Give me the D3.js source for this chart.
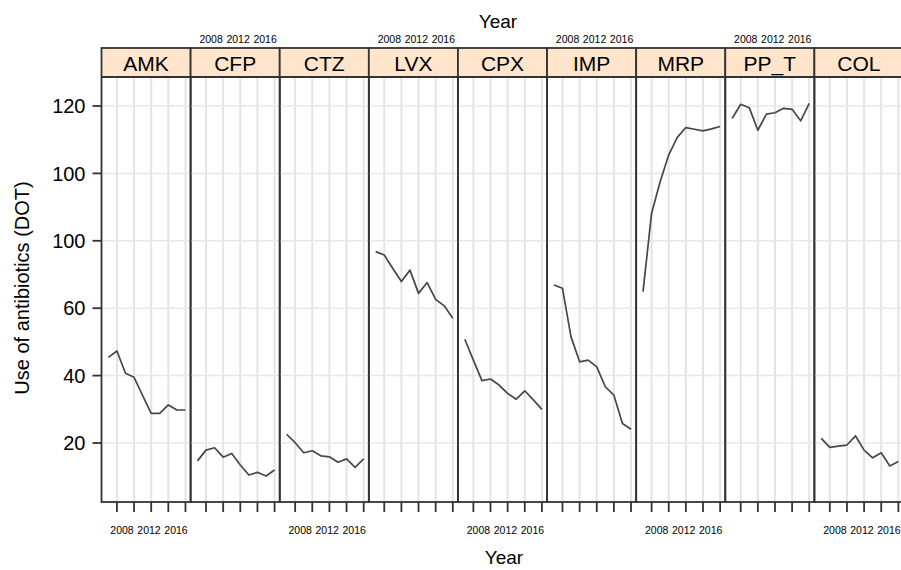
<!DOCTYPE html>
<html lang="en">
  <head>
    <meta charset="UTF-8" />
    <title>Use of antibiotics</title>
    <script src="https://cdn.jsdelivr.net/npm/d3@7/dist/d3.min.js"></script>
    <style>
      body { margin: 0; background: #fff; }
      svg { display: block; font-family: "Liberation Sans", Arial, sans-serif; }
    </style>
  </head>
  <body>
    <div id="chart"></div>
    <script>
      // data
      let drugs = ["AMK", "CFP", "CTZ", "LVX", "CPX", "IMP", "MRP", "PP_T", "COL"];
      let years = [2007, 2008, 2009, 2010, 2011, 2012, 2013, 2014, 2015, 2016];
      let amk = [45.4, 47.3, 40.7, 39.5, 34.1, 28.8, 28.8, 31.3, 29.8, 29.8];
      let cfp = [14.7, 17.9, 18.6, 15.8, 16.9, 13.5, 10.5, 11.3, 10.2, 12.0];
      let ctz = [22.6, 20.1, 17.1, 17.7, 16.2, 15.9, 14.3, 15.3, 12.8, 15.3];
      let lvx = [76.8, 75.8, 71.8, 67.9, 71.3, 64.4, 67.6, 62.6, 60.7, 57.0];
      let cpx = [50.8, 44.6, 38.5, 39.0, 37.2, 34.7, 33.0, 35.5, 32.8, 30.0];
      let imp = [66.9, 65.9, 51.5, 44.1, 44.6, 42.6, 36.7, 34.2, 25.8, 24.1];
      let mrp = [64.9, 88.2, 97.5, 105.5, 110.7, 113.6, 113.1, 112.6, 113.2, 113.9];
      let ppt = [116.3, 120.5, 119.5, 112.8, 117.6, 118.0, 119.3, 119.0, 115.6, 120.8];
      let col = [21.4, 18.7, 19.1, 19.4, 22.1, 17.9, 15.6, 17.1, 13.2, 14.5];

      let yTicks = [20, 40, 60, 80, 100, 120];
      let yTickLabels = ["20", "40", "60", "100", "100", "120"]; // as printed
      let xTicks = [2008, 2010, 2012, 2014, 2016];
      let xTickLabels = ["2008", "2012", "2016"];

      let series = [amk, cfp, ctz, lvx, cpx, imp, mrp, ppt, col];

      let width = 901, height = 570;
      let stripTop = 48, stripH = 29, plotBottom = 502;

      let svg = d3.select("#chart").append("svg")
        .attr("width", width).attr("height", height);

      let panel = d3.scaleBand().domain(drugs).range([101.5, 903.5]);
      let bw = panel.bandwidth();
      let x = d3.scaleLinear().domain([2006.2, 2016.6]).range([0, bw]);
      let y = d3.scaleLinear().domain([2.5, 128.6]).range([plotBottom, stripTop + stripH]);
      let labelPos = d3.scalePoint().domain(xTickLabels).range([20.5, 74.5]);

      let line = d3.line()
        .x(function (d, i) { return x(years[i]); })
        .y(function (d) { return y(d); });

      let panels = svg.selectAll("g.panel")
        .data(drugs)
        .enter()
        .append("g")
        .attr("class", "panel")
        .attr("transform", function (d) { return "translate(" + panel(d) + ",0)"; });

      // grid
      panels.each(function () {
        let g = d3.select(this);
        g.selectAll("line.vg").data(xTicks).enter().append("line")
          .attr("x1", x).attr("x2", x)
          .attr("y1", stripTop + stripH).attr("y2", plotBottom)
          .attr("stroke", "#e4e4e4").attr("stroke-width", 2);
        g.selectAll("line.hg").data(yTicks).enter().append("line")
          .attr("x1", 0).attr("x2", bw)
          .attr("y1", y).attr("y2", y)
          .attr("stroke", "#e8e8e8").attr("stroke-width", 1.5);
      });

      // strips
      panels.append("rect")
        .attr("x", 0).attr("y", stripTop)
        .attr("width", bw).attr("height", stripH)
        .attr("fill", "#ffe5cc");

      // lines
      panels.append("path")
        .attr("d", function (d, i) { return line(series[i]); })
        .attr("fill", "none")
        .attr("stroke", "#474747")
        .attr("stroke-width", 1.7)
        .attr("stroke-linejoin", "round");

      // borders
      panels.append("rect")
        .attr("x", 0).attr("y", stripTop)
        .attr("width", bw).attr("height", plotBottom - stripTop)
        .attr("fill", "none").attr("stroke", "#333").attr("stroke-width", 1.8);
      panels.append("line")
        .attr("x1", 0).attr("x2", bw)
        .attr("y1", stripTop + stripH).attr("y2", stripTop + stripH)
        .attr("stroke", "#333").attr("stroke-width", 1.8);

      panels.append("text")
        .attr("x", bw / 2).attr("y", stripTop + 22.5)
        .attr("text-anchor", "middle")
        .attr("font-size", 21)
        .text(function (d) { return d; });

      // bottom ticks
      panels.each(function () {
        d3.select(this).selectAll("line.tk").data(xTicks).enter().append("line")
          .attr("x1", x).attr("x2", x)
          .attr("y1", plotBottom).attr("y2", plotBottom + 10)
          .attr("stroke", "#333").attr("stroke-width", 1.8);
      });

      // alternating year labels
      panels.each(function (d, i) {
        let ly = i % 2 === 0 ? 534 : 43;
        d3.select(this).selectAll("text.yr").data(xTickLabels).enter().append("text")
          .attr("x", labelPos).attr("y", ly)
          .attr("text-anchor", "middle")
          .attr("font-size", 10.5)
          .text(function (t) { return t; });
      });

      // y axis
      let yAxis = svg.append("g").attr("transform", "translate(101.5,0)");
      yAxis.selectAll("line").data(yTicks).enter().append("line")
        .attr("x1", -9).attr("x2", 0)
        .attr("y1", y).attr("y2", y)
        .attr("stroke", "#333").attr("stroke-width", 1.8);
      yAxis.selectAll("text").data(yTicks).enter().append("text")
        .attr("x", -16).attr("y", y).attr("dy", "0.36em")
        .attr("text-anchor", "end")
        .attr("font-size", 20)
        .text(function (d, i) { return yTickLabels[i]; });

      // axis titles
      svg.append("text")
        .attr("x", 498).attr("y", 28)
        .attr("text-anchor", "middle").attr("font-size", 19)
        .text("Year");
      svg.append("text")
        .attr("x", 504).attr("y", 564)
        .attr("text-anchor", "middle").attr("font-size", 19)
        .text("Year");
      svg.append("text")
        .attr("transform", "translate(29,288) rotate(-90)")
        .attr("text-anchor", "middle").attr("font-size", 20)
        .text("Use of antibiotics (DOT)");
    </script>
  </body>
</html>
